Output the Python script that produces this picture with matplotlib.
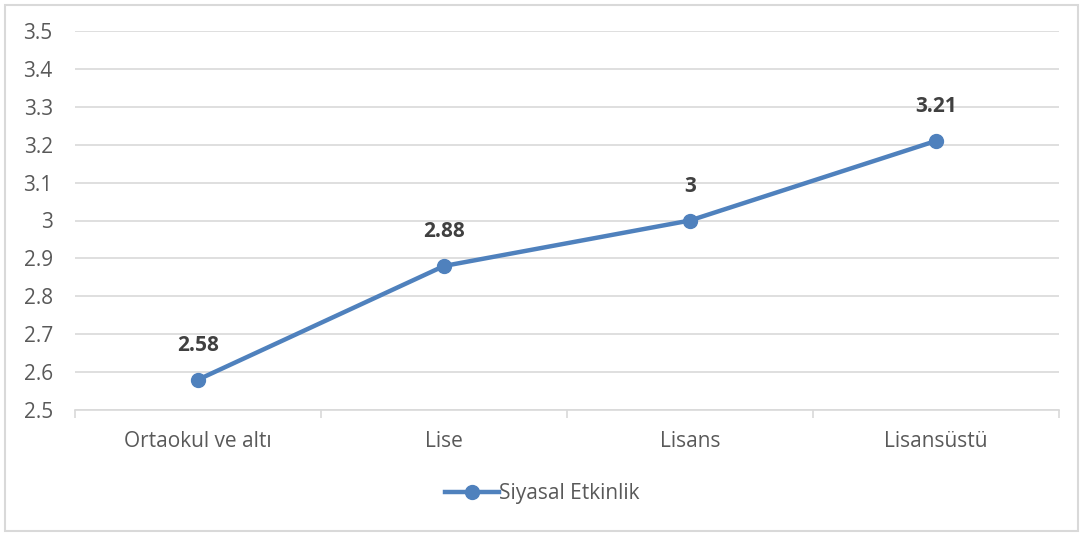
import numpy as np
from matplotlib import pyplot as plt
from matplotlib.patches import Rectangle

categories = ['Ortaokul ve altı', 'Lise', 'Lisans', 'Lisansüstü']
values = [2.58, 2.88, 3.0, 3.21]
value_labels = ['2.58', '2.88', '3', '3.21']
series_name = 'Siyasal Etkinlik'
yticks = [2.5, 2.6, 2.7, 2.8, 2.9, 3.0, 3.1, 3.2, 3.3, 3.4, 3.5]
ytick_labels = ['2.5', '2.6', '2.7', '2.8', '2.9', '3', '3.1', '3.2', '3.3', '3.4', '3.5']

plt.rcParams['font.family'] = ['Open Sans', 'DejaVu Sans']
line_col = '#4F81BD'
grid_col = '#D9D9D9'
text_col = '#595959'

fig = plt.figure(figsize=(10.84, 5.37), dpi=100)
fig.patches.append(Rectangle((5/1084, 6/537), 1073/1084, 526/537,
                             transform=fig.transFigure, fill=False,
                             edgecolor=grid_col, lw=1.5))
ax = fig.add_axes([75/1084, 1 - 410/537, 984/1084, 379/537])

x = np.arange(len(categories))
ax.plot(x, values, '-o', color=line_col, lw=3.2, ms=10, label=series_name,
        zorder=3)
for xi, v, s in zip(x, values, value_labels):
    ax.annotate(s, (xi, v), xytext=(0, 17), textcoords='offset points',
                ha='center', va='bottom', fontsize=15, fontweight='bold',
                color='#404040')

ax.set_xlim(-0.5, len(categories) - 0.5)
ax.set_ylim(2.5, 3.5)
ax.set_yticks(yticks)
ax.set_yticklabels(ytick_labels)
ax.set_xticks(x)
ax.set_xticklabels(categories)
ax.set_xticks(np.arange(-0.5, len(categories)), minor=True)
ax.yaxis.grid(True, color=grid_col, lw=1.2)
ax.set_axisbelow(True)
for side in ['top', 'right', 'left']:
    ax.spines[side].set_visible(False)
ax.spines['bottom'].set_color(grid_col)
ax.spines['bottom'].set_linewidth(1.2)
ax.tick_params(axis='y', length=0, pad=16, labelsize=15, labelcolor=text_col)
ax.tick_params(axis='x', which='major', length=0, pad=15, labelsize=15,
               labelcolor=text_col)
ax.tick_params(axis='x', which='minor', length=6, color=grid_col, width=1.2)

fig.legend(loc='center', bbox_to_anchor=(0.5, 1 - 494/537), frameon=False,
           fontsize=15, handlelength=2.6, handletextpad=0.0,
           labelcolor=text_col)

plt.savefig('out.png', dpi=100)
